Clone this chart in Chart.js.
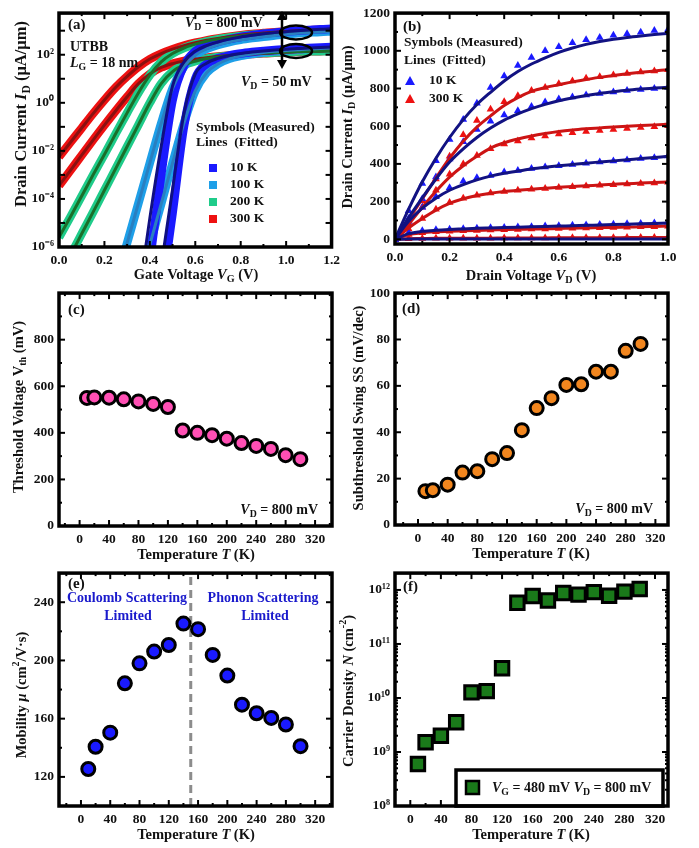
<!DOCTYPE html>
<html>
<head>
<meta charset="utf-8">
<script src="https://cdn.jsdelivr.net/npm/chart.js@4.4.1/dist/chart.umd.min.js"></script>
<style>
  body { margin: 0; background: #fff; width: 699px; height: 848px; position: relative; overflow: hidden; }
  .box { position: absolute; }
</style>
</head>
<body>
<div class="box" style="left:0;top:0;width:345px;height:285px"><canvas id="ca"></canvas></div>
<div class="box" style="left:338px;top:0;width:361px;height:285px"><canvas id="cb"></canvas></div>
<div class="box" style="left:0;top:280px;width:345px;height:285px"><canvas id="cc"></canvas></div>
<div class="box" style="left:338px;top:280px;width:361px;height:285px"><canvas id="cd"></canvas></div>
<div class="box" style="left:0;top:560px;width:345px;height:288px"><canvas id="ce"></canvas></div>
<div class="box" style="left:338px;top:560px;width:361px;height:288px"><canvas id="cf"></canvas></div>
<script>
const SERIF = '"Liberation Serif", "Times New Roman", serif';

// ---- (a) transfer curves: log10 of I_D (uA/um) read at each gate voltage ----
const vg = [0, 0.05, 0.1, 0.15, 0.2, 0.25, 0.3, 0.35, 0.4, 0.45, 0.5, 0.55, 0.6, 0.65, 0.7, 0.75, 0.8, 0.85, 0.9, 0.95, 1.0, 1.05, 1.1, 1.15, 1.2];
const log300Hi = [-2.25, -1.65, -1.05, -0.45, 0.12, 0.65, 1.1, 1.5, 1.82, 2.05, 2.23, 2.38, 2.5, 2.6, 2.68, 2.75, 2.81, 2.86, 2.9, 2.94, 2.97, 3.0, 3.02, 3.04, 3.06];
const log300Lo = [-3.45, -2.82, -2.18, -1.55, -0.93, -0.33, 0.25, 0.8, 1.2, 1.47, 1.63, 1.74, 1.82, 1.88, 1.93, 1.97, 2.0, 2.03, 2.06, 2.08, 2.1, 2.12, 2.14, 2.15, 2.17];
const log200Hi = [-5.6, -4.75, -3.88, -3.0, -2.15, -1.28, -0.42, 0.42, 1.15, 1.7, 2.05, 2.28, 2.44, 2.56, 2.65, 2.72, 2.78, 2.83, 2.87, 2.91, 2.94, 2.97, 2.99, 3.01, 3.03];
const log200Lo = [-7.3, -6.36, -5.45, -4.55, -3.64, -2.73, -1.82, -0.91, 0.0, 0.8, 1.3, 1.57, 1.73, 1.84, 1.91, 1.96, 2.0, 2.04, 2.07, 2.09, 2.11, 2.13, 2.14, 2.15, 2.16];
const log100Hi = [null, null, null, null, null, -7.5, -5.83, -4.17, -2.5, -0.85, 0.6, 1.5, 1.98, 2.24, 2.41, 2.53, 2.62, 2.69, 2.75, 2.8, 2.85, 2.89, 2.92, 2.95, 2.97];
const log100Lo = [null, null, null, null, null, null, null, -7.7, -5.9, -4.2, -2.5, -0.85, 0.5, 1.25, 1.62, 1.83, 1.95, 2.03, 2.09, 2.14, 2.18, 2.21, 2.24, 2.26, 2.28];
const log10HiFit = [null, null, null, null, null, null, null, -8.1, -4.8, -1.8, 0.7, 1.7, 2.15, 2.38, 2.53, 2.65, 2.74, 2.81, 2.87, 2.92, 2.96, 3.0, 3.03, 3.06, 3.08];
const log10HiMeas = [null, null, null, null, null, null, null, null, -6.6, -3.0, 0.1, 1.55, 2.15, 2.38, 2.53, 2.65, 2.74, 2.81, 2.87, 2.92, 2.96, 3.0, 3.03, 3.06, 3.08];
const log10LoFit = [null, null, null, null, null, null, null, null, null, -6.8, -3.6, -0.45, 1.2, 1.65, 1.85, 1.97, 2.05, 2.11, 2.16, 2.2, 2.23, 2.26, 2.28, 2.3, 2.32];
const log10LoMeas = [null, null, null, null, null, null, null, null, null, -8.0, -4.6, -1.0, 1.0, 1.62, 1.85, 1.97, 2.05, 2.11, 2.16, 2.2, 2.23, 2.26, 2.28, 2.3, 2.32];

// ---- (b) output curves, I_D (uA/um) vs V_D ----
const vd = [0, 0.05, 0.1, 0.15, 0.2, 0.25, 0.3, 0.35, 0.4, 0.45, 0.5, 0.55, 0.6, 0.65, 0.7, 0.75, 0.8, 0.85, 0.9, 0.95, 1.0];
const k10Sym = [
  [0, 151, 296, 417, 530, 635, 722, 805, 866, 922, 965, 1000, 1021, 1043, 1059, 1070, 1082, 1090, 1099, 1108, 1113],
  [0, 110, 215, 330, 426, 518, 582, 626, 660, 682, 705, 728, 744, 755, 765, 773, 782, 790, 795, 800, 805],
  [0, 95, 170, 226, 273, 308, 327, 339, 357, 365, 375, 383, 390, 397, 403, 410, 416, 421, 428, 433, 442],
  [0, 35, 45, 50, 53, 56, 59, 61, 63, 65, 67, 70, 72, 74, 76, 78, 80, 82, 84, 86, 90]
];
const k10Fit = [
  [0, 160, 305, 430, 540, 635, 715, 780, 840, 890, 930, 963, 992, 1015, 1034, 1049, 1061, 1071, 1079, 1086, 1092],
  [0, 115, 220, 320, 410, 480, 540, 590, 632, 665, 693, 716, 735, 750, 763, 774, 783, 791, 797, 802, 807],
  [0, 95, 165, 218, 260, 290, 315, 335, 350, 362, 373, 382, 390, 397, 404, 410, 416, 422, 428, 434, 440],
  [0, 30, 42, 48, 52, 55, 58, 60, 62, 64, 66, 68, 70, 72, 74, 76, 78, 80, 82, 84, 86],
  [0, 1, 1, 1, 1, 1, 2, 2, 2, 2, 2, 2, 2, 2, 2, 2, 2, 2, 2, 2, 2]
];
const k300Sym = [
  [0, 100, 205, 320, 440, 555, 630, 690, 730, 762, 790, 805, 825, 840, 855, 862, 872, 880, 888, 893, 900],
  [0, 80, 170, 260, 345, 400, 445, 480, 505, 522, 538, 548, 558, 565, 572, 577, 583, 588, 593, 597, 602],
  [0, 55, 110, 160, 195, 218, 233, 245, 253, 260, 265, 270, 275, 279, 283, 287, 290, 293, 296, 299, 303],
  [0, 25, 35, 40, 43, 45, 47, 49, 51, 52, 54, 55, 57, 58, 60, 61, 63, 64, 66, 67, 69],
  [0, 3, 4, 5, 5, 6, 6, 6, 7, 7, 7, 7, 8, 8, 8, 8, 8, 9, 9, 9, 9]
];
const k300Fit = [
  [0, 105, 215, 325, 430, 520, 595, 655, 710, 752, 785, 805, 820, 835, 848, 859, 869, 878, 886, 893, 900],
  [0, 80, 170, 255, 330, 390, 440, 484, 512, 532, 548, 561, 572, 580, 586, 591, 596, 600, 604, 607, 611],
  [0, 60, 110, 155, 190, 215, 232, 244, 253, 260, 266, 271, 276, 280, 284, 288, 292, 295, 298, 301, 304],
  [0, 25, 35, 40, 43, 45, 47, 49, 51, 53, 54, 56, 57, 59, 60, 62, 63, 65, 66, 68, 70],
  [0, 3, 4, 5, 5, 6, 6, 6, 7, 7, 7, 7, 8, 8, 8, 8, 8, 9, 9, 9, 9]
];

// ---- (c)-(f) temperature dependence ----
const temps = [10, 20, 40, 60, 80, 100, 120, 140, 160, 180, 200, 220, 240, 260, 280, 300];
const vth = [550, 552, 551, 544, 535, 524, 511, 410, 400, 390, 375, 356, 344, 331, 304, 287];
const swing = [14.6, 15.0, 17.4, 22.6, 23.2, 28.4, 31.0, 40.9, 50.4, 54.7, 60.4, 60.7, 66.1, 66.1, 75.1, 78.1];
const mobility = [125.4, 140.7, 150.4, 184.3, 198.0, 206.1, 210.6, 225.3, 221.5, 203.8, 189.6, 169.6, 163.7, 160.5, 156.0, 141.1];
const density = [5.97e8, 1.52e9, 2.0e9, 3.56e9, 1.27e10, 1.34e10, 3.56e10, 5.8e11, 7.7e11, 6.4e11, 8.8e11, 8.2e11, 9.1e11, 7.8e11, 9.3e11, 1.04e12];
const crossoverT = 150;

// tick values
const tempTicks = [0, 40, 80, 120, 160, 200, 240, 280, 320];
const tempMinor = [-20, 20, 60, 100, 140, 180, 220, 260, 300, 340];

// page layout: canvas boxes and plot areas
const BOX = {
  ca: { l: 0, t: 0, w: 345, h: 285, plot: [59, 8, 333, 247] },
  cb: { l: 338, t: 0, w: 361, h: 285, plot: [395, 8, 668, 244] },
  cc: { l: 0, t: 280, w: 345, h: 285, plot: [59, 288, 332, 526] },
  cd: { l: 338, t: 280, w: 361, h: 285, plot: [395, 289, 668, 525] },
  ce: { l: 0, t: 560, w: 345, h: 288, plot: [59, 568, 332, 806] },
  cf: { l: 338, t: 560, w: 361, h: 288, plot: [395, 569, 668, 806] }
};

const SUP = { '-': '\u207B', '0': '\u2070', '1': '\u00B9', '2': '\u00B2', '3': '\u00B3', '4': '\u2074', '5': '\u2075', '6': '\u2076', '7': '\u2077', '8': '\u2078', '9': '\u2079' };
const pow10Label = v => '10' + String(Math.round(Math.log10(v))).split('').map(c => SUP[c]).join('');

// draw mixed-style text: parts = [[text, style]], style: i italic, b subscript, p superscript
function rich(ctx, parts, x, y, size, align, color) {
  const segs = parts.map(([t, s]) => {
    const small = s.includes('b') || s.includes('p');
    const sz = small ? size * 0.7 : size;
    return {
      t,
      f: (s.includes('i') ? 'italic ' : '') + 'bold ' + sz + 'px ' + SERIF,
      dy: s.includes('b') ? size * 0.3 : s.includes('p') ? -size * 0.36 : 0
    };
  });
  let w = 0;
  segs.forEach(p => { ctx.font = p.f; p.w = ctx.measureText(p.t).width; w += p.w; });
  let cx = align === 'center' ? x - w / 2 : align === 'right' ? x - w : x;
  ctx.textAlign = 'left';
  ctx.textBaseline = 'middle';
  ctx.fillStyle = color || '#111';
  segs.forEach(p => { ctx.font = p.f; ctx.fillText(p.t, cx, y + p.dy); cx += p.w; });
}

const tempTitle = [['Temperature ', ''], ['T', 'i'], [' (K)', '']];
const vd800 = [['V', 'i'], ['D', 'b'], [' = 800 mV', '']];

const decor = {
  ca: {
    xMajor: [0, 0.2, 0.4, 0.6, 0.8, 1.0, 1.2], xMinor: [0.1, 0.3, 0.5, 0.7, 0.9, 1.1],
    yMajor: [1e-6, 1e-5, 1e-4, 1e-3, 1e-2, 1e-1, 1, 10, 100, 1000], yMinor: [],
    xTitle: { parts: [['Gate Voltage ', ''], ['V', 'i'], ['G', 'b'], [' (V)', '']], x: 196, y: 275, size: 14.5 },
    yTitle: { parts: [['Drain Current ', ''], ['I', 'i'], ['D', 'b'], [' (\u03BCA/\u03BCm)', '']], x: 22, y: 114, size: 16.5 },
    notes: [
      { parts: [['(a)', '']], x: 68, y: 25, size: 15 },
      { parts: vd800, x: 185, y: 23, size: 14 },
      { parts: [['UTBB', '']], x: 70, y: 47, size: 14 },
      { parts: [['L', 'i'], ['G', 'b'], [' = 18 nm', '']], x: 70, y: 63, size: 14 },
      { parts: [['V', 'i'], ['D', 'b'], [' = 50 mV', '']], x: 241, y: 82, size: 14 },
      { parts: [['Symbols (Measured)', '']], x: 196, y: 128, size: 13.5 },
      { parts: [['Lines  (Fitted)', '']], x: 196, y: 143, size: 13.5 },
      { parts: [['10 K', '']], x: 230, y: 168, size: 13.5 },
      { parts: [['100 K', '']], x: 230, y: 185, size: 13.5 },
      { parts: [['200 K', '']], x: 230, y: 202, size: 13.5 },
      { parts: [['300 K', '']], x: 230, y: 219, size: 13.5 }
    ],
    extra(ctx) {
      [['#1a1aff', 168], ['#1e9fe8', 185], ['#1fcc8a', 202], ['#ee1111', 219]].forEach(([c, y]) => {
        ctx.fillStyle = c; ctx.fillRect(209, y - 4, 8, 8);
      });
      ctx.strokeStyle = '#000'; ctx.lineWidth = 2.5;
      [[296, 32.5], [296, 51]].forEach(([x, y]) => {
        ctx.beginPath(); ctx.ellipse(x, y, 16, 7, 0, 0, Math.PI * 2); ctx.stroke();
      });
      ctx.beginPath(); ctx.moveTo(282, 17); ctx.lineTo(282, 63); ctx.stroke();
      ctx.fillStyle = '#000';
      ctx.beginPath(); ctx.moveTo(282, 11); ctx.lineTo(277, 20); ctx.lineTo(287, 20); ctx.fill();
      ctx.beginPath(); ctx.moveTo(282, 69); ctx.lineTo(277, 60); ctx.lineTo(287, 60); ctx.fill();
    }
  },
  cb: {
    xMajor: [0, 0.2, 0.4, 0.6, 0.8, 1.0], xMinor: [0.1, 0.3, 0.5, 0.7, 0.9],
    yMajor: [0, 200, 400, 600, 800, 1000, 1200], yMinor: [100, 300, 500, 700, 900, 1100],
    xTitle: { parts: [['Drain Voltage ', ''], ['V', 'i'], ['D', 'b'], [' (V)', '']], x: 531, y: 276, size: 14.5 },
    yTitle: { parts: [['Drain Current ', ''], ['I', 'i'], ['D', 'b'], [' (\u03BCA/\u03BCm)', '']], x: 348, y: 127, size: 14.5 },
    notes: [
      { parts: [['(b)', '']], x: 403, y: 27, size: 15 },
      { parts: [['Symbols (Measured)', '']], x: 404, y: 43, size: 13.5 },
      { parts: [['Lines  (Fitted)', '']], x: 404, y: 61, size: 13.5 },
      { parts: [['10 K', '']], x: 429, y: 81, size: 13.5 },
      { parts: [['300 K', '']], x: 429, y: 99, size: 13.5 }
    ],
    extra(ctx) {
      [['#1a1aff', 81], ['#ee1111', 99]].forEach(([c, y]) => {
        ctx.fillStyle = c; ctx.beginPath();
        ctx.moveTo(410, y - 5); ctx.lineTo(415, y + 4); ctx.lineTo(405, y + 4); ctx.fill();
      });
    }
  },
  cc: {
    xMajor: tempTicks, xMinor: tempMinor,
    yMajor: [0, 200, 400, 600, 800, 1000], yMinor: [100, 300, 500, 700, 900],
    xTitle: { parts: tempTitle, x: 196, y: 555, size: 14.5 },
    yTitle: { parts: [['Threshold Voltage V', ''], ['th', 'b'], [' (mV)', '']], x: 19, y: 407, size: 14.5 },
    notes: [
      { parts: [['(c)', '']], x: 68, y: 310, size: 15 },
      { parts: vd800, x: 318, y: 510, size: 14, align: 'right' }
    ]
  },
  cd: {
    xMajor: tempTicks, xMinor: tempMinor,
    yMajor: [0, 20, 40, 60, 80, 100], yMinor: [10, 30, 50, 70, 90],
    xTitle: { parts: tempTitle, x: 531, y: 554, size: 14.5 },
    yTitle: { parts: [['Subthreshold Swing SS (mV/dec)', '']], x: 359, y: 408, size: 14.5 },
    notes: [
      { parts: [['(d)', '']], x: 402, y: 309, size: 15 },
      { parts: vd800, x: 653, y: 509, size: 14, align: 'right' }
    ]
  },
  ce: {
    xMajor: tempTicks, xMinor: tempMinor,
    yMajor: [120, 160, 200, 240], yMinor: [100, 140, 180, 220, 260],
    xTitle: { parts: tempTitle, x: 196, y: 835, size: 14.5 },
    yTitle: { parts: [['Mobility ', ''], ['\u03BC', 'i'], [' (cm', ''], ['2', 'p'], ['/V\u00B7s)', '']], x: 22, y: 695, size: 14.5 },
    notes: [
      { parts: [['(e)', '']], x: 68, y: 584, size: 15 },
      { parts: [['Coulomb Scattering', '']], x: 127, y: 598, size: 14, align: 'center', color: '#1a1acc' },
      { parts: [['Limited', '']], x: 128, y: 616, size: 14, align: 'center', color: '#1a1acc' },
      { parts: [['Phonon Scattering', '']], x: 263, y: 598, size: 14, align: 'center', color: '#1a1acc' },
      { parts: [['Limited', '']], x: 265, y: 616, size: 14, align: 'center', color: '#1a1acc' }
    ]
  },
  cf: {
    xMajor: tempTicks, xMinor: tempMinor,
    yMajor: [1e8, 1e9, 1e10, 1e11, 1e12],
    yMinor: [2e8, 3e8, 4e8, 5e8, 6e8, 7e8, 8e8, 9e8, 2e9, 3e9, 4e9, 5e9, 6e9, 7e9, 8e9, 9e9,
             2e10, 3e10, 4e10, 5e10, 6e10, 7e10, 8e10, 9e10, 2e11, 3e11, 4e11, 5e11, 6e11, 7e11, 8e11, 9e11, 2e12],
    xTitle: { parts: tempTitle, x: 531, y: 835, size: 14.5 },
    yTitle: { parts: [['Carrier Density ', ''], ['N', 'i'], [' (cm', ''], ['-2', 'p'], [')', '']], x: 349, y: 691, size: 14.5 },
    notes: [
      { parts: [['(f)', '']], x: 403, y: 587, size: 15 },
      { parts: [['V', 'i'], ['G', 'b'], [' = 480 mV ', ''], ['V', 'i'], ['D', 'b'], [' = 800 mV', '']], x: 492, y: 788, size: 14 }
    ],
    extra(ctx) {
      ctx.fillStyle = '#fff'; ctx.fillRect(456, 770, 207, 36);
      ctx.strokeStyle = '#000'; ctx.lineWidth = 3.5; ctx.strokeRect(456, 770, 207, 36);
      ctx.fillStyle = '#1a7a1a'; ctx.fillRect(466, 781, 13, 13);
      ctx.lineWidth = 2.5; ctx.strokeRect(466, 781, 13, 13);
    }
  }
};

const framePlugin = {
  id: 'frame',
  afterDatasetsDraw(chart) {
    const id = chart.canvas.id, d = decor[id], b = BOX[id];
    const { ctx, chartArea: a, scales: { x, y } } = chart;
    ctx.save();
    ctx.strokeStyle = '#000';
    ctx.lineWidth = 2;
    const seg = (x1, y1, x2, y2) => { ctx.beginPath(); ctx.moveTo(x1, y1); ctx.lineTo(x2, y2); ctx.stroke(); };
    const xt = (vals, len) => vals.forEach(v => {
      const p = x.getPixelForValue(v);
      if (p < a.left + 2 || p > a.right - 2) return;
      seg(p, a.bottom, p, a.bottom - len); seg(p, a.top, p, a.top + len);
    });
    const yt = (vals, len) => vals.forEach(v => {
      const p = y.getPixelForValue(v);
      if (p < a.top + 2 || p > a.bottom - 2) return;
      seg(a.left, p, a.left + len, p); seg(a.right, p, a.right - len, p);
    });
    xt(d.xMajor, 6); xt(d.xMinor, 3); yt(d.yMajor, 6); yt(d.yMinor, 3);
    ctx.translate(-b.l, -b.t);
    if (d.extra) d.extra(ctx);
    ctx.translate(b.l, b.t);
    ctx.lineWidth = 3.5;
    ctx.strokeRect(a.left, a.top, a.right - a.left, a.bottom - a.top);
    ctx.translate(-b.l, -b.t);
    rich(ctx, d.xTitle.parts, d.xTitle.x, d.xTitle.y, d.xTitle.size, 'center');
    ctx.save();
    ctx.translate(d.yTitle.x, d.yTitle.y);
    ctx.rotate(-Math.PI / 2);
    rich(ctx, d.yTitle.parts, 0, 0, d.yTitle.size, 'center');
    ctx.restore();
    d.notes.forEach(n => rich(ctx, n.parts, n.x, n.y, n.size, n.align || 'left', n.color));
    ctx.restore();
  }
};

function axis(type, min, max, labels, fmt, size) {
  return {
    type, min, max,
    grid: { display: false, drawTicks: false },
    border: { display: false },
    ticks: {
      font: { family: SERIF, weight: 'bold', size: 13.5 }, color: '#111', padding: 5,
      autoSkip: false, maxRotation: 0, callback: fmt
    },
    afterBuildTicks: s => { s.ticks = labels.map(v => ({ value: v })); },
    afterFit: s => { if (s.isHorizontal()) s.height = size; else s.width = size; }
  };
}

function makeChart(id, datasets, xType, xMin, xMax, xLabels, xFmt, yType, yMin, yMax, yLabels, yFmt) {
  const b = BOX[id], p = b.plot;
  return new Chart(document.getElementById(id), {
    type: 'scatter',
    data: { datasets },
    options: {
      responsive: true, maintainAspectRatio: false, animation: false,
      layout: { padding: { left: 0, top: p[1] - b.t, right: b.l + b.w - p[2], bottom: 0 } },
      plugins: { legend: { display: false }, tooltip: { enabled: false } },
      scales: {
        x: axis(xType, xMin, xMax, xLabels, xFmt, b.t + b.h - p[3]),
        y: axis(yType, yMin, yMax, yLabels, yFmt, p[0] - b.l)
      }
    },
    plugins: [framePlugin]
  });
}

const logPts = (ys) => vg.map((x, i) => ({ x, y: ys[i] == null ? null : Math.pow(10, ys[i]) }));
const pts = (xs, ys) => xs.map((x, i) => ({ x, y: ys[i] }));
const fix1 = v => Number(v).toFixed(1);
const int = v => String(v);

// (a)
const bandA = (ys, c) => ({ data: logPts(ys), showLine: true, pointRadius: 0, borderColor: c, borderWidth: 8.5, cubicInterpolationMode: 'monotone', clip: 0, order: 2 });
const lineA = (ys, c) => ({ data: logPts(ys), showLine: true, pointRadius: 0, borderColor: c, borderWidth: 3, cubicInterpolationMode: 'monotone', clip: 0, order: 1 });
makeChart('ca', [
  bandA(log10HiMeas, '#1a1aff'), bandA(log10LoMeas, '#1a1aff'),
  bandA(log100Hi, '#1e9fe8'), bandA(log100Lo, '#1e9fe8'),
  bandA(log200Hi, '#1fcc8a'), bandA(log200Lo, '#1fcc8a'),
  bandA(log300Hi, '#ee1111'), bandA(log300Lo, '#ee1111'),
  lineA(log10HiFit, '#101080'), lineA(log10LoFit, '#101080'),
  lineA(log100Hi, '#2a7fc0'), lineA(log100Lo, '#2a7fc0'),
  lineA(log200Hi, '#1a6e2a'), lineA(log200Lo, '#1a6e2a'),
  lineA(log300Hi, '#8a1010'), lineA(log300Lo, '#8a1010')
], 'linear', 0, 1.2, [0, 0.2, 0.4, 0.6, 0.8, 1.0, 1.2], fix1,
   'logarithmic', 1e-6, 5.4e3, [1e-6, 1e-4, 1e-2, 1, 1e2], pow10Label);

// (b)
const symB = (ys, c) => ({ data: pts(vd, ys), pointStyle: 'triangle', pointRadius: 4.5, pointBackgroundColor: c, pointBorderWidth: 0, clip: 0, order: 2 });
const lineB = (ys, c) => ({ data: pts(vd, ys), showLine: true, pointRadius: 0, borderColor: c, borderWidth: 3, cubicInterpolationMode: 'monotone', clip: 0, order: 1 });
makeChart('cb', [
  ...k10Sym.map(s => symB(s, '#1a1aff')),
  ...k300Sym.map(s => symB(s, '#ee1111')),
  ...k10Fit.map(s => lineB(s, '#121282')),
  ...k300Fit.map(s => lineB(s, '#cc1414'))
], 'linear', 0, 1.0, [0, 0.2, 0.4, 0.6, 0.8, 1.0], fix1,
   'linear', -25, 1200, [0, 200, 400, 600, 800, 1000, 1200], int);

// (c)-(f)
const dots = (ys, c, style, r) => ({ data: pts(temps, ys), pointStyle: style || 'circle', pointRadius: r || 6.5, pointBackgroundColor: c, pointBorderColor: '#000', pointBorderWidth: 3 });
makeChart('cc', [dots(vth, '#ff4fb4')], 'linear', -28, 343, tempTicks, int,
  'linear', 0, 1000, [0, 200, 400, 600, 800], int);
makeChart('cd', [dots(swing, '#f2861e')], 'linear', -31, 337, tempTicks, int,
  'linear', 0, 100, [0, 20, 40, 60, 80, 100], int);
makeChart('ce', [
  dots(mobility, '#1a1aff'),
  { data: [{ x: crossoverT, y: 100 }, { x: crossoverT, y: 260 }], showLine: true, pointRadius: 0, borderColor: '#8c8c8c', borderWidth: 3, borderDash: [8, 5], order: 5 }
], 'linear', -30, 343, tempTicks, int,
  'linear', 100, 260, [120, 160, 200, 240], int);
makeChart('cf', [dots(density, '#1a7a1a', 'rect', 9.5)], 'linear', -20, 337, tempTicks, int,
  'logarithmic', 1e8, 2.05e12, [1e8, 1e9, 1e10, 1e11, 1e12], pow10Label);
</script>
</body>
</html>
